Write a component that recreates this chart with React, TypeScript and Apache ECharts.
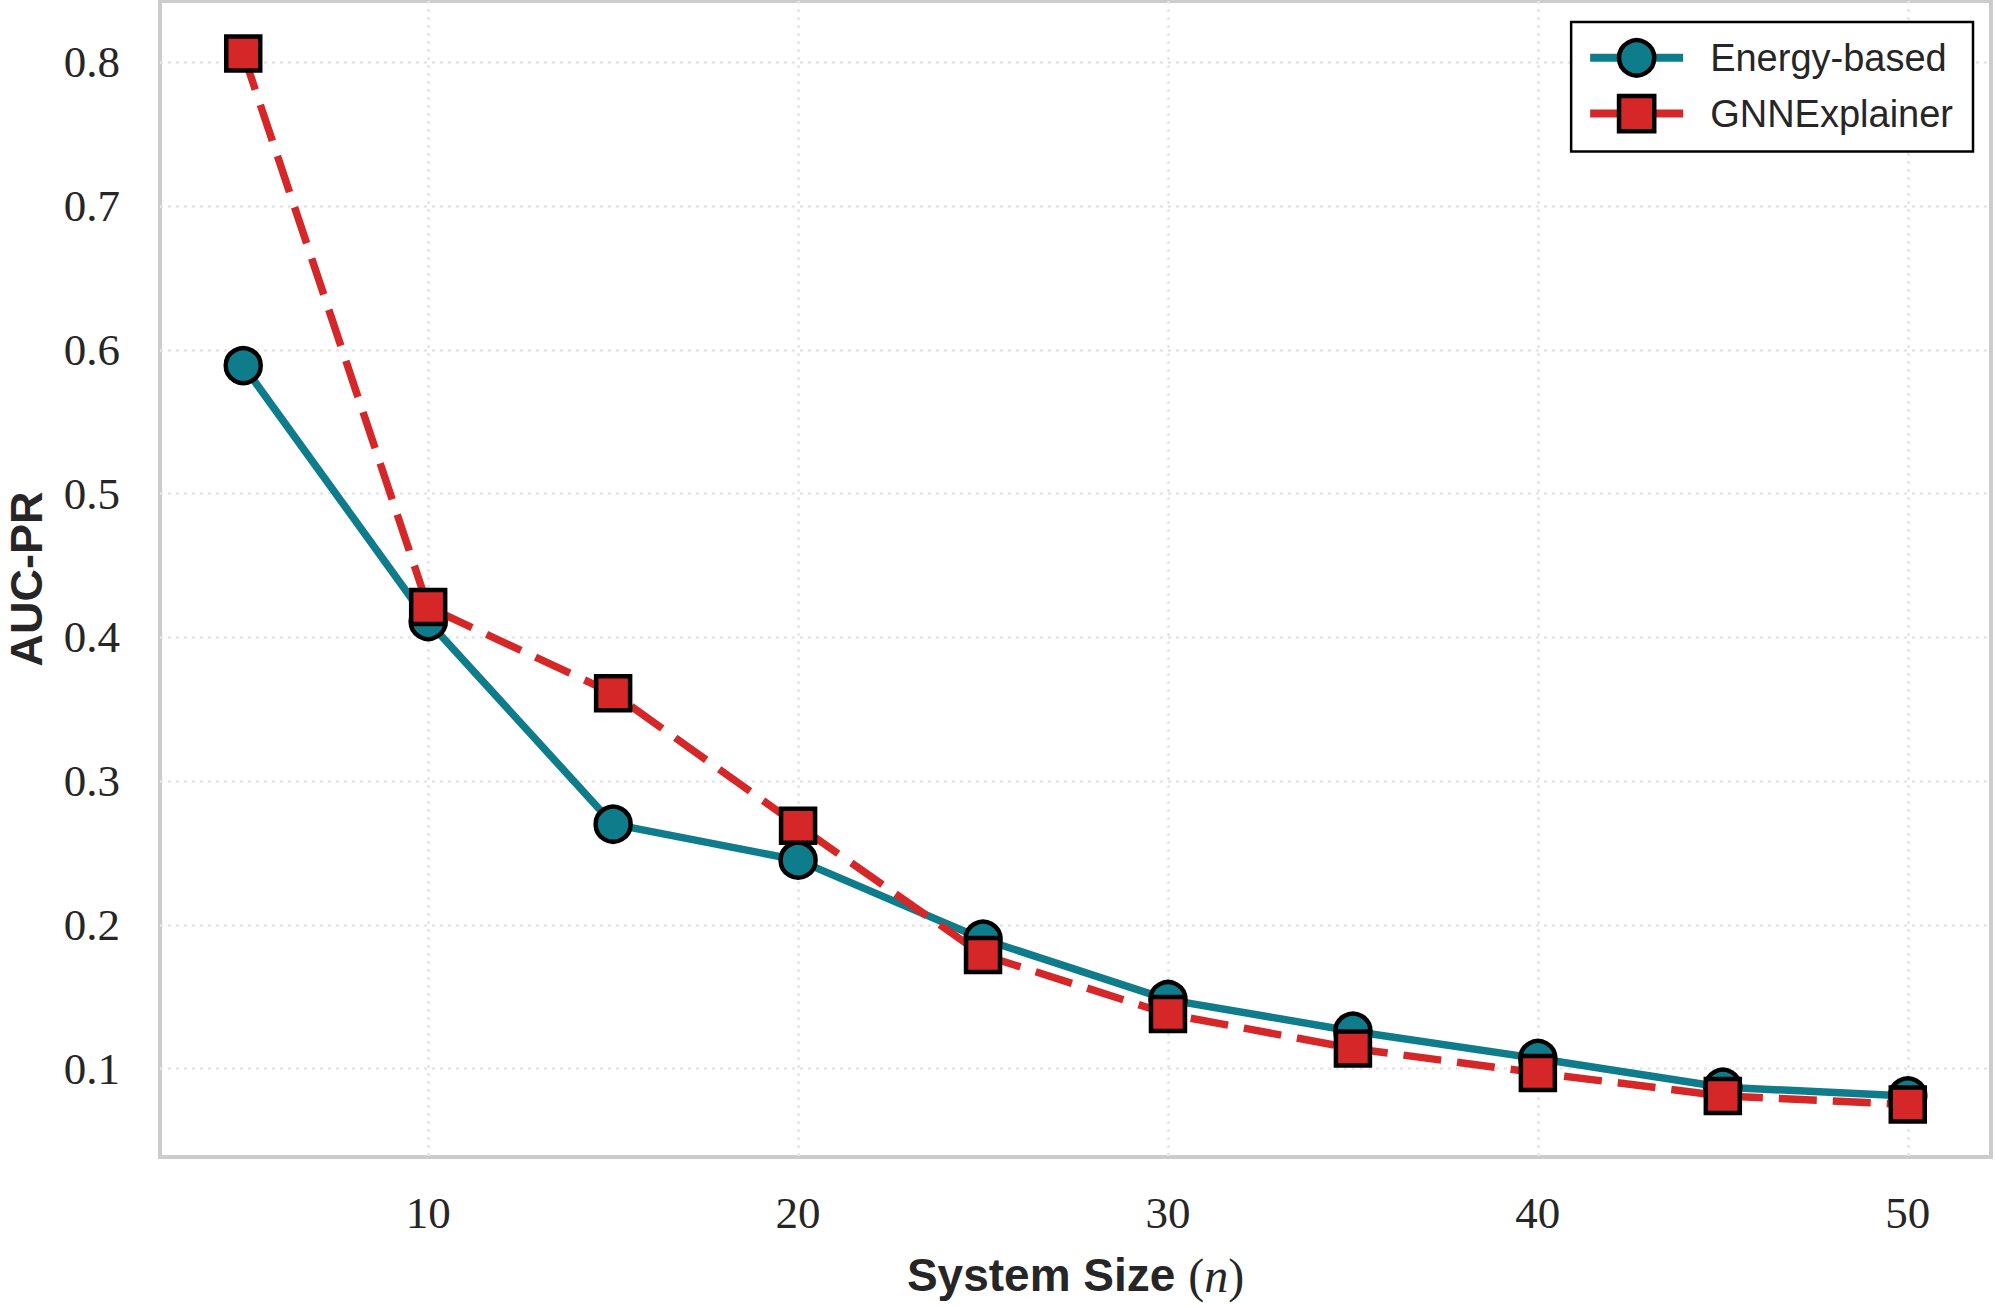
import React, { useEffect, useRef } from "react";
import * as echarts from "echarts";

// System sizes (n) and AUC-PR for each explanation method
const systemSizes = [5, 10, 15, 20, 25, 30, 35, 40, 45, 50];
const energyBased = [0.589, 0.411, 0.27, 0.245, 0.19, 0.148, 0.126, 0.107, 0.087, 0.081];
const gnnExplainer = [0.806, 0.421, 0.361, 0.269, 0.179, 0.138, 0.114, 0.097, 0.081, 0.075];

// Axis ticks and limits
const xTicks = [10, 20, 30, 40, 50];
const yTicks = [0.1, 0.2, 0.3, 0.4, 0.5, 0.6, 0.7, 0.8];
const xLimits = [2.75, 52.25];
const yLimits = [0.0385, 0.8426];

const seriesNames = ["Energy-based", "GNNExplainer"];

const TEAL = "#0f7c8b";
const RED = "#d62728";
const INK = "#262626";
const SERIF = "'Liberation Serif', 'DejaVu Serif', serif";
const SANS = "'Liberation Sans', Arial, sans-serif";

const toPairs = (ys: number[]) => systemSizes.map((x, i) => [x, ys[i]]);

export default function App() {
  const ref = useRef<HTMLDivElement>(null);

  useEffect(() => {
    if (!ref.current) return;
    const chart = echarts.init(ref.current, undefined, { renderer: "svg" });

    const gridLine = {
      show: true,
      lineStyle: { color: "#e6e6e6", width: 2.5, type: [3, 5] as number[] },
    };

    chart.setOption({
      animation: false,
      backgroundColor: "#ffffff",
      grid: {
        left: 160,
        right: 4,
        top: 1,
        bottom: 149,
        show: true,
        borderColor: "#cccccc",
        borderWidth: 4,
        backgroundColor: "transparent",
        containLabel: false,
        outerBoundsMode: "none",
      },
      legend: {
        right: 22,
        top: 22,
        orient: "vertical",
        backgroundColor: "#ffffff",
        borderColor: "#000000",
        borderWidth: 2.5,
        borderRadius: 0,
        padding: [16, 20, 18, 15],
        itemWidth: 93,
        itemHeight: 44,
        itemGap: 16,
        textStyle: {
          fontFamily: SANS,
          fontSize: 38,
          color: INK,
          padding: [0, 0, 0, 22],
        },
        data: [
          {
            name: seriesNames[0],
            itemStyle: { color: TEAL, borderColor: "#000", borderWidth: 4.5 },
            lineStyle: { color: TEAL, width: 8, type: "solid" },
          },
          {
            name: seriesNames[1],
            itemStyle: { color: RED, borderColor: "#000", borderWidth: 4.5 },
            lineStyle: { color: RED, width: 8, type: "solid" },
          },
        ],
      },
      xAxis: {
        type: "value",
        min: xLimits[0],
        max: xLimits[1],
        axisLine: { show: false },
        axisTick: { show: false, customValues: xTicks },
        axisLabel: {
          customValues: xTicks,
          margin: 33,
          fontFamily: SERIF,
          fontSize: 45,
          color: INK,
        },
        splitLine: gridLine,
        name: "{b|System Size }{m|(}{i|n}{m|)}",
        nameLocation: "middle",
        nameGap: 94,
        nameTextStyle: {
          rich: {
            b: { fontFamily: SANS, fontWeight: "bold", fontSize: 46, color: INK },
            m: { fontFamily: SERIF, fontSize: 48, color: INK },
            i: { fontFamily: SERIF, fontStyle: "italic", fontSize: 48, color: INK },
          },
        },
      },
      yAxis: {
        type: "value",
        min: yLimits[0],
        max: yLimits[1],
        axisLine: { show: false },
        axisTick: { show: false, customValues: yTicks },
        axisLabel: {
          customValues: yTicks,
          margin: 40,
          fontFamily: SERIF,
          fontSize: 45,
          color: INK,
          formatter: (v: number) => v.toFixed(1),
        },
        splitLine: gridLine,
        name: "AUC-PR",
        nameLocation: "middle",
        nameGap: 116,
        nameTextStyle: {
          fontFamily: SANS,
          fontWeight: "bold",
          fontSize: 45,
          lineHeight: 36,
          color: INK,
        },
      },
      series: [
        {
          name: seriesNames[0],
          type: "line",
          data: toPairs(energyBased),
          symbol: "circle",
          symbolSize: 35,
          lineStyle: { color: TEAL, width: 7.5, type: "solid" },
          itemStyle: { color: TEAL, borderColor: "#000", borderWidth: 4.5 },
          z: 2,
        },
        {
          name: seriesNames[1],
          type: "line",
          data: toPairs(gnnExplainer),
          symbol: "rect",
          symbolSize: 34,
          lineStyle: { color: RED, width: 7.5, type: [38, 16] },
          itemStyle: { color: RED, borderColor: "#000", borderWidth: 4.5 },
          z: 3,
        },
      ],
    });

    return () => chart.dispose();
  }, []);

  return (
    <div
      ref={ref}
      style={{ position: "fixed", left: 0, top: 0, width: 1995, height: 1306, background: "#fff" }}
    />
  );
}
